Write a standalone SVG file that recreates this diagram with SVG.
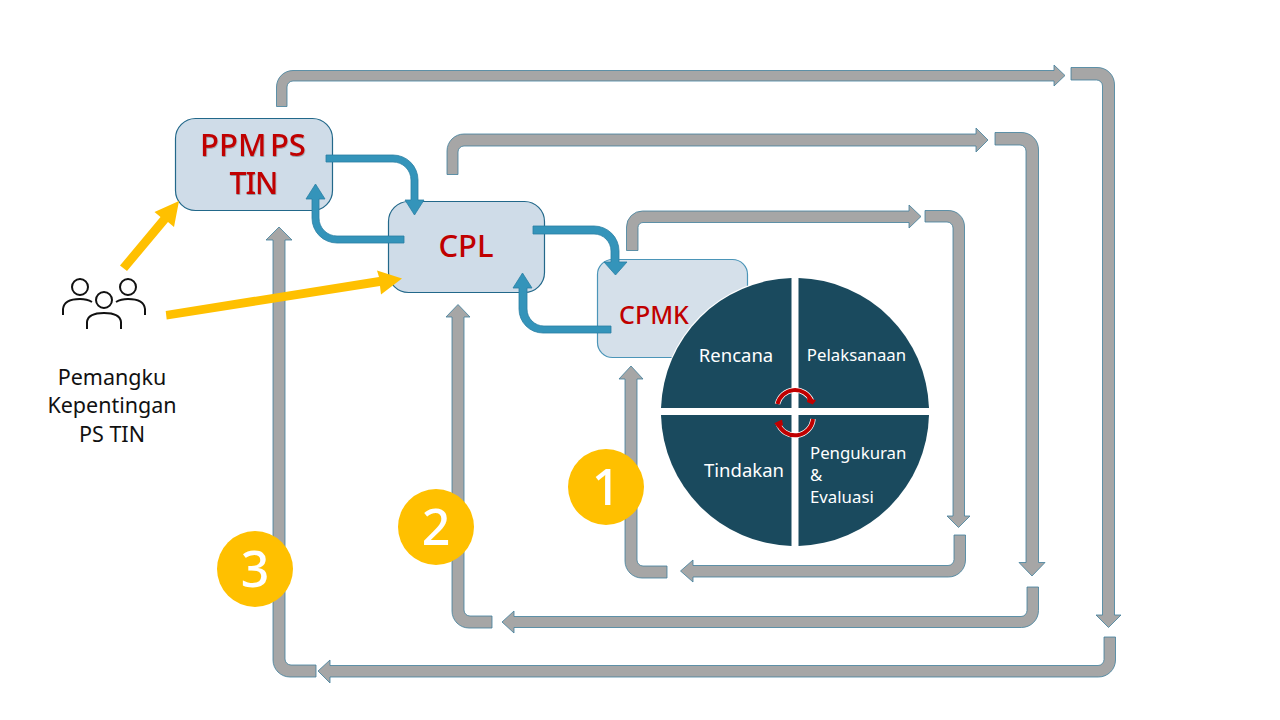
<svg xmlns="http://www.w3.org/2000/svg" width="1280" height="720" viewBox="0 0 1280 720">
<defs><filter id="sh" x="-10%" y="-10%" width="120%" height="130%"><feDropShadow dx="0.5" dy="1" stdDeviation="0.7" flood-color="#000" flood-opacity="0.3"/></filter></defs>
<style>
.box{fill:#cfdce8;stroke:#22688a;stroke-width:1.2}
.box2{fill:#d5e0ea;stroke:#4b95b8;stroke-width:1.2}
.g{fill:#a6a6a6;stroke:#3f7f9c;stroke-width:0.8}
.b{fill:#3494ba;stroke:#2a7fa3;stroke-width:0.8}
.y{fill:#ffc000}
.t{font-family:"Noto Sans","Open Sans",sans-serif}
.red{fill:#c00000;text-anchor:middle;font-weight:500}
.w{fill:#fff}
.blk{fill:#111;font-size:21.500px;text-anchor:middle}
.num{fill:#fff;font-size:50px;text-anchor:middle;font-weight:500}
.pie{fill:#1a4a5e}
.ic{fill:none;stroke:#111;stroke-width:2}
.arc{fill:none;stroke:#c00000;stroke-width:4}
.arco{fill:none;stroke:#fff;stroke-width:5.500}
</style>
<g id="node-ppm"><rect class="box" x="175.500" y="118.500" width="157" height="92" rx="20"/>
<text class="t red" x="253" y="156" font-size="31" word-spacing="-4.500" filter="url(#sh)">PPM PS</text><text class="t red" x="253.500" y="194" font-size="30" letter-spacing="-1" filter="url(#sh)">TIN</text></g>
<g id="node-cpl"><rect class="box" x="388.500" y="201.500" width="156" height="91" rx="20"/>
<text class="t red" x="466" y="257" font-size="31">CPL</text></g>
<g id="node-cpmk"><rect class="box2" x="597.500" y="259.500" width="150" height="98" rx="15"/>
<text class="t red" x="654" y="324" font-size="25">CPMK</text></g>
<g id="connectors">
<path class="g" d="M276.500 106.500V87A16.500 16.500 0 0 1 293 70.500H1054V65L1065 75.500L1054 86V81H293A6 6 0 0 0 287 87V106.500Z"/>
<path class="g" d="M447 174.500V151A17 17 0 0 1 464 134H976V128L988 140L976 152V146H464A6 6 0 0 0 458 152V174.500Z"/>
<path class="g" d="M626.500 250.500V227A16 16 0 0 1 642.500 211H909V205L921 216.500L909 228V222.500H643A5 5 0 0 0 638 227.500V250.500Z"/>
<path class="g" d="M1071 67.500H1097A17 17 0 0 1 1114.500 85V615H1121L1108.500 627.500L1096 615H1102.500V86A6 6 0 0 0 1096.500 80H1071Z"/>
<path class="g" d="M995 132.500H1021A17 17 0 0 1 1038.500 150V562.500H1045L1032 576L1019 562.500H1026V151A6 6 0 0 0 1020 145H995Z"/>
<path class="g" d="M925 210.500H948A16 16 0 0 1 964.500 227V516H970L958.500 527.500L947 516H953V228A6 6 0 0 0 947 222H925Z"/>
<path class="g" d="M1115.500 637V660A17 17 0 0 1 1098.500 677H330V683L318 671L330 660V665.500H1098A6 6 0 0 0 1104 659.500V637Z"/>
<path class="g" d="M1038.500 587V610.500A17 17 0 0 1 1021.500 627.500H514V633L502 622L514 611V616.500H1021A6 6 0 0 0 1027 610.500V587Z"/>
<path class="g" d="M965.500 535V560A17 17 0 0 1 948.500 577H693V582L680.500 571L693 560V565.500H948A6 6 0 0 0 954 559.500V535Z"/>
<path class="g" d="M316 665H291A6 6 0 0 1 285 659V240H292L279 227L266 240H273V660A17 17 0 0 0 290 677H316Z"/>
<path class="g" d="M492 616H470A6 6 0 0 1 464 610V317H470L458 304.500L446 317H452V611A17 17 0 0 0 469 628H492Z"/>
<path class="g" d="M667 566H643A6 6 0 0 1 637 560V379H643L631 366L619 379H625V561A17 17 0 0 0 642 578H667Z"/>
<path class="b" d="M326 155H393A25 25 0 0 1 418 180V200H424L414.500 215L405 200H411V180A18 18 0 0 0 393 162H326Z"/>
<path class="b" d="M404 236H337A18 18 0 0 1 319 218V199H325L315.500 184L306 199H312V218A25 25 0 0 0 337 243H404Z"/>
<path class="b" d="M533 226H594A25 25 0 0 1 619 251V262H627L615.500 275L604 262H611V251A17 17 0 0 0 594 234H533Z"/>
<path class="b" d="M611 326H544A17 17 0 0 1 527 309V288H532L522.500 273L513 288H519V309A24 24 0 0 0 543 333H611Z"/>
<path class="y" d="M120 265.500L160.500 217L154.500 212L179 201L174 227L168 222L127 271Z"/>
<path class="y" d="M165.700 311L379 277L377 270.500L402 278.500L381 294.500L380 286L166.700 319.500Z"/>
</g>
<g id="node-pie">
<path d="M795 277A135 135 0 0 1 795 547A135 135 0 0 1 795 277Z" fill="#fff"/>
<path class="pie" d="M791.500 278V408H661A134.500 134.500 0 0 1 791.500 278Z"/>
<path class="pie" d="M798.500 278V408H929A134.500 134.500 0 0 0 798.500 278Z"/>
<path class="pie" d="M791.500 546V415H661A134.500 134.500 0 0 0 791.500 546Z"/>
<path class="pie" d="M798.500 546V415H929A134.500 134.500 0 0 1 798.500 546Z"/>
<path class="arco" d="M777.500 404A18 18 0 0 1 811.600 401"/>
<path class="arco" d="M813 419A18 18 0 0 1 778 423"/>
<path class="arc" d="M777.500 404A18 18 0 0 1 811.600 401"/>
<path class="arc" d="M813 419A18 18 0 0 1 778 423"/>
<path d="M807.500 396.700L816 400.500L812.700 404.500L807 402Z" fill="#c00000"/>
<path d="M782 419.500L774.300 423.300L777.700 427.700L783 425Z" fill="#c00000"/>
<text class="t w" x="736" y="362" font-size="18.500" text-anchor="middle">Rencana</text>
<text class="t w" x="856.500" y="361" font-size="16.800" text-anchor="middle">Pelaksanaan</text>
<text class="t w" x="744" y="477" font-size="18.500" text-anchor="middle">Tindakan</text>
<text class="t w" x="810" y="459" font-size="16.800">Pengukuran</text>
<text class="t w" x="810" y="481" font-size="16.800">&amp;</text>
<text class="t w" x="810" y="503" font-size="16.800">Evaluasi</text>
</g>
<g id="node-stakeholders">
<circle class="ic" cx="80" cy="287" r="8"/><circle class="ic" cx="128" cy="287" r="8"/><circle class="ic" cx="104" cy="300" r="8"/>
<path class="ic" d="M63 315V309Q64 299 80 299Q87 299 92 302"/>
<path class="ic" d="M145 315V309Q144 299 128 299Q121 299 116 302"/>
<path class="ic" d="M87 329V322Q88 313 104 313Q120 313 121 322V329"/>
<text class="t blk" x="112" y="385">Pemangku</text><text class="t blk" x="112" y="413">Kepentingan</text><text class="t blk" x="112" y="442">PS TIN</text>
</g>
<g id="badge-1"><circle class="y" cx="606" cy="487" r="38"/><text class="t num" x="606" y="505">1</text></g>
<g id="badge-2"><circle class="y" cx="436" cy="527" r="38"/><text class="t num" x="436" y="545">2</text></g>
<g id="badge-3"><circle class="y" cx="255" cy="569" r="38"/><text class="t num" x="255" y="587">3</text></g>
</svg>
